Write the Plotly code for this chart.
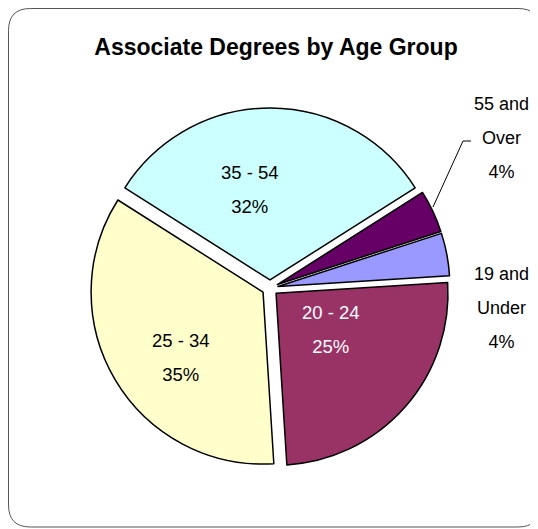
import plotly.graph_objects as go

W, H = 538, 529
OFF = 8  # page offset of the figure (body margin)

labels = ["19 and Under", "20 - 24", "25 - 34", "35 - 54", "55 and Over"]
values = [4, 25, 35, 32, 4]
colors = ["#9999FF", "#993366", "#FFFFCC", "#CCFFFF", "#660066"]
text_colors = ["black", "white", "black", "black", "black"]
label_lines = {
    "19 and Under": ["19 and", "Under"],
    "20 - 24": ["20 - 24"],
    "25 - 34": ["25 - 34"],
    "35 - 54": ["35 - 54"],
    "55 and Over": ["55 and", "Over"],
}

title_text = "Associate Degrees by Age Group"
FONT = "Liberation Sans, Arial, sans-serif"
GLYPH = 18.5

# label centres, in page pixels of the target picture
label_pos = {
    "19 and Under": (501, 308),
    "20 - 24": (331, 329.5),
    "25 - 34": (181, 357.5),
    "35 - 54": (249.5, 189.5),
    "55 and Over": (501, 137.5),
}


def px(x):
    return (x - OFF) / W


def py(y):
    return 1 - (y - OFF) / H


def span(s, size):
    return f"<span style='font-size:{size}px'>{s}</span>"


fig = go.Figure()
fig.add_trace(go.Pie(
    labels=labels,
    values=values,
    sort=False,
    direction="clockwise",
    rotation=72,
    pull=0.047,
    marker=dict(colors=colors, line=dict(color="black", width=1.5)),
    textinfo="none",
    hoverinfo="label+percent",
    domain=dict(x=[px(90), px(450)], y=[py(468), py(108)]),
    showlegend=False,
))

total = sum(values)
annotations = []
for lab, val, col in zip(labels, values, text_colors):
    pct = f"{round(val / total * 100)}%"
    lines = label_lines[lab] + [pct]
    size = 18 if len(label_lines[lab]) > 1 else GLYPH
    x, y = label_pos[lab]
    annotations.append(dict(
        x=px(x), y=py(y), xref="paper", yref="paper",
        xanchor="center", yanchor="middle", showarrow=False,
        text="<br>".join(span(l, size) for l in lines),
        font=dict(family=FONT, size=26, color=col),
    ))

# rounded border (page pixels)
L, T, R, B, rad = 8.5, 8.5, 540, 527, 22
border = (f"M {px(L)},{py(T + rad)} Q {px(L)},{py(T)} {px(L + rad)},{py(T)} "
          f"L {px(R - rad)},{py(T)} Q {px(R)},{py(T)} {px(R)},{py(T + rad)} "
          f"L {px(R)},{py(B - rad)} Q {px(R)},{py(B)} {px(R - rad)},{py(B)} "
          f"L {px(L + rad)},{py(B)} Q {px(L)},{py(B)} {px(L)},{py(B - rad)} Z")
leader = f"M {px(433)},{py(207)} L {px(463)},{py(141)} L {px(471)},{py(141)}"

fig.update_layout(
    width=W, height=H,
    margin=dict(l=0, r=0, t=0, b=0),
    paper_bgcolor="white",
    plot_bgcolor="white",
    title=dict(
        text=f"<b>{title_text}</b>",
        x=px(276), y=py(47), xanchor="center", yanchor="middle",
        xref="paper", yref="paper",
        font=dict(family=FONT, size=23, color="black"),
    ),
    annotations=annotations,
    shapes=[
        dict(type="path", path=border, xref="paper", yref="paper",
             line=dict(color="#555555", width=1), layer="below"),
        dict(type="path", path=leader, xref="paper", yref="paper",
             line=dict(color="black", width=1)),
    ],
)

fig.write_html("out.html")
